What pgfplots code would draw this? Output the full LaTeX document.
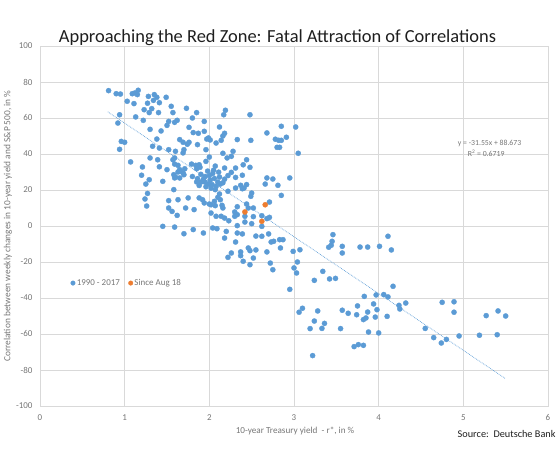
\documentclass[border=0pt]{standalone}
\usepackage{fontspec}
\setmainfont{Carlito}
\usepackage{pgfplots}
\pgfplotsset{compat=1.18}
\definecolor{xblue}{RGB}{91,155,213}
\definecolor{xorange}{RGB}{237,125,49}
\definecolor{xgrid}{RGB}{217,217,217}
\definecolor{xtext}{RGB}{118,118,118}
\definecolor{xdark}{RGB}{30,30,30}
\begin{document}
\begin{tikzpicture}
\path[use as bounding box] (-40bp,-46bp) rectangle (520bp,406bp);
\begin{axis}[
  at={(0,0)}, anchor=south west,
  scale only axis, width=508bp, height=360bp,
  xmin=0, xmax=6, ymin=-100, ymax=100,
  xtick={0,1,2,3,4,5,6}, ytick={-100,-80,-60,-40,-20,0,20,40,60,80,100},
  grid=major, major grid style={xgrid, line width=0.6pt},
  axis line style={xgrid, line width=0.6pt},
  tick style={draw=none},
  ticklabel style={font=\fontsize{9}{10}\selectfont, text=xtext},
  /pgf/number format/assume math mode=true,
  xticklabel style={yshift=-5bp},
  yticklabel style={xshift=-4bp},
  legend style={at={(axis cs:0.36,-31.7)}, anchor=west, draw=none, fill=none,
    font=\fontsize{9}{10}\selectfont, text=xtext, inner sep=0pt,
    nodes={inner sep=1.5bp}},
  legend columns=2,
  legend cell align=left,
  /tikz/every even column/.append style={column sep=7bp},
  legend image code/.code={\draw[#1, mark size=2.3pt] plot coordinates {(0bp,0bp)};},
]
\addplot[only marks, mark=*, mark size=2.6pt, mark options={draw=xblue, fill=xblue, line width=0.3pt}] table {
x y
0.81 75.2
0.90 73.5
0.95 73.3
1.09 73.5
1.12 73.9
1.16 75.4
1.15 73.0
1.03 69.3
1.11 68.0
1.28 72.0
1.35 73.0
1.38 71.5
1.34 69.8
1.41 68.5
1.27 68.2
1.49 71.5
1.23 64.6
1.29 63.0
1.32 65.2
1.40 63.0
1.55 66.5
1.57 63.0
1.73 65.4
1.85 63.0
2.19 64.3
2.17 61.8
2.48 61.8
0.94 61.8
0.92 57.2
1.13 60.6
1.22 58.7
1.52 58.1
1.50 55.9
1.62 58.7
1.59 57.6
1.80 60.0
1.94 58.1
1.30 53.7
1.43 52.8
1.76 54.8
2.12 55.0
1.81 51.9
1.87 51.5
1.94 52.6
2.16 50.0
2.18 51.5
2.14 47.6
2.08 46.1
2.49 47.6
2.33 48.0
0.96 47.0
1.00 46.5
0.94 42.6
1.38 48.3
1.65 48.0
1.69 46.5
1.74 45.4
1.76 46.5
1.70 42.4
1.69 40.6
1.86 45.2
1.97 48.3
1.99 48.9
2.01 47.8
1.33 44.3
1.41 43.3
1.52 42.4
1.60 41.5
1.59 37.8
1.57 36.8
1.59 34.4
1.96 42.4
2.00 38.3
1.96 35.9
2.16 40.4
2.21 37.8
2.26 38.7
2.28 41.5
2.44 36.8
2.40 34.0
2.48 32.6
1.07 35.6
1.30 37.8
1.39 36.8
1.21 32.8
1.41 32.9
1.50 31.3
1.63 33.7
1.65 31.3
1.71 31.8
1.69 29.4
1.79 34.4
1.84 33.7
1.88 34.0
1.85 31.8
1.89 32.6
2.07 33.3
2.18 32.2
2.31 32.2
2.26 29.8
2.31 27.0
2.39 28.2
2.44 23.0
2.39 20.7
2.50 18.3
2.49 16.5
1.20 28.2
1.29 25.7
1.25 23.3
1.45 24.8
1.58 28.5
1.59 26.7
1.65 26.7
1.70 28.5
1.60 27.2
1.63 30.0
1.66 30.4
1.80 27.5
1.85 24.5
1.90 24.4
1.95 24.4
2.00 28.0
2.01 25.5
2.03 23.0
2.06 26.4
2.10 24.4
2.08 22.0
2.13 23.3
2.16 24.0
2.22 28.0
1.98 30.5
1.93 26.0
2.04 29.2
2.12 27.2
1.96 21.8
2.18 26.0
1.88 22.5
1.95 27.5
2.02 21.0
1.90 28.7
2.07 20.2
1.99 23.3
2.11 29.9
1.86 26.3
2.05 31.0
1.58 20.2
1.75 15.6
1.88 15.6
1.63 14.6
1.52 14.1
1.27 18.1
1.24 15.0
1.26 11.1
1.52 10.0
1.56 8.1
1.62 5.9
1.72 10.0
1.82 9.1
1.92 14.6
1.94 12.8
2.02 11.8
2.06 13.7
2.10 15.9
2.12 17.8
2.13 14.6
2.16 10.0
2.14 5.4
2.18 4.4
2.08 5.4
2.02 7.2
2.22 19.3
2.31 21.1
2.33 10.7
2.33 6.3
2.07 11.3
2.15 11.5
2.00 12.2
2.44 12.2
2.46 10.0
2.52 10.0
2.71 13.3
2.30 7.8
2.30 5.4
2.42 5.4
2.52 5.2
2.62 5.7
2.68 4.1
2.71 4.8
2.42 2.2
2.50 1.3
2.33 0.2
2.23 2.9
2.04 -1.1
2.09 -1.5
2.20 -3.0
2.33 -3.9
2.39 -4.4
2.55 -5.6
2.62 -5.7
2.70 -4.4
2.62 -0.2
2.18 -6.7
2.31 -8.9
2.73 -8.9
2.76 -8.5
2.83 -7.6
2.87 -7.6
2.84 -12.2
2.46 -12.2
2.48 -13.7
2.55 -13.3
2.37 -14.4
2.26 -15.0
2.68 -14.4
2.99 -14.1
3.07 -13.2
2.22 -17.4
2.40 -19.6
2.52 -17.8
2.72 -20.6
3.04 -20.0
2.48 -21.5
2.37 -16.5
2.75 -24.3
3.00 -23.3
3.03 -26.1
2.95 -35.2
2.68 26.7
2.75 26.1
2.95 26.7
2.81 22.6
2.66 23.3
2.85 17.0
2.37 22.6
2.41 21.1
2.68 51.7
2.85 55.4
3.02 55.0
2.78 48.2
2.82 47.6
2.85 47.6
2.91 49.3
2.80 43.7
2.83 43.7
3.05 40.4
1.45 -0.2
1.59 -0.6
1.70 -4.3
1.81 -2.0
1.93 -3.9
3.46 -4.8
3.45 -8.5
3.44 -10.7
3.41 -11.8
3.57 -11.3
3.57 -15.0
3.78 -11.7
3.87 -11.7
4.01 -11.3
4.11 -5.7
4.15 -13.3
3.24 -30.2
3.34 -25.2
3.42 -29.4
3.49 -29.1
4.17 -33.5
3.97 -38.3
4.06 -38.1
4.11 -39.4
3.83 -39.1
4.24 -44.1
4.25 -46.1
4.32 -42.8
3.06 -47.9
3.10 -45.7
3.28 -47.2
3.24 -52.8
3.19 -57.0
3.33 -56.9
3.36 -54.1
3.57 -46.8
3.64 -48.5
3.55 -57.0
3.75 -44.4
3.74 -49.3
3.82 -52.0
3.85 -51.1
3.87 -47.8
3.94 -43.3
3.98 -46.5
3.96 -50.6
4.10 -50.2
3.88 -58.9
4.00 -59.4
3.71 -67.0
3.76 -65.9
3.82 -66.3
3.22 -72.0
4.75 -42.4
4.89 -42.1
4.89 -47.9
4.55 -56.9
4.65 -62.0
4.74 -65.0
4.80 -63.0
4.95 -61.1
5.19 -60.7
5.40 -60.4
5.27 -49.8
5.41 -47.2
5.50 -50.0
};
\addlegendentry{1990 - 2017}
\addplot[xblue, densely dotted, line width=0.7pt, forget plot] coordinates {(0.8,63.433) (5.5,-84.852)};
\addplot[only marks, mark=*, mark size=2.6pt, mark options={draw=xorange, fill=xorange, line width=0.3pt}] table {
x y
2.66 11.8
2.42 7.8
2.62 2.6
};
\addlegendentry{Since Aug 18}
\node[font=\fontsize{7.8}{9}\selectfont, text=xtext] at (axis cs:5.31,45.6) {y = -31.55x + 88.673};
\node[font=\fontsize{7.8}{9}\selectfont, text=xtext] at (axis cs:5.27,40.2) {R\textsuperscript{2} = 0.6719};
\end{axis}
\node[anchor=base, font=\fontsize{18.5}{22}\selectfont, text=xdark] at (237.5bp,363.5bp) {Approaching the Red Zone: Fatal Attraction of Correlations};
\node[font=\fontsize{9.2}{11}\selectfont, text=xtext] at (255bp,-25bp) {10-year Treasury yield\ \ - r*, in \%};
\node[rotate=90, font=\fontsize{9.4}{11}\selectfont, text=xtext] at (-32bp,180bp) {Correlation between weekly changes in 10-year yield and S\&P 500, in \%};
\node[anchor=east, font=\fontsize{10.3}{12}\selectfont, text=xdark] at (519bp,-28bp) {Source:\ \ Deutsche Bank};
\end{tikzpicture}
\end{document}
